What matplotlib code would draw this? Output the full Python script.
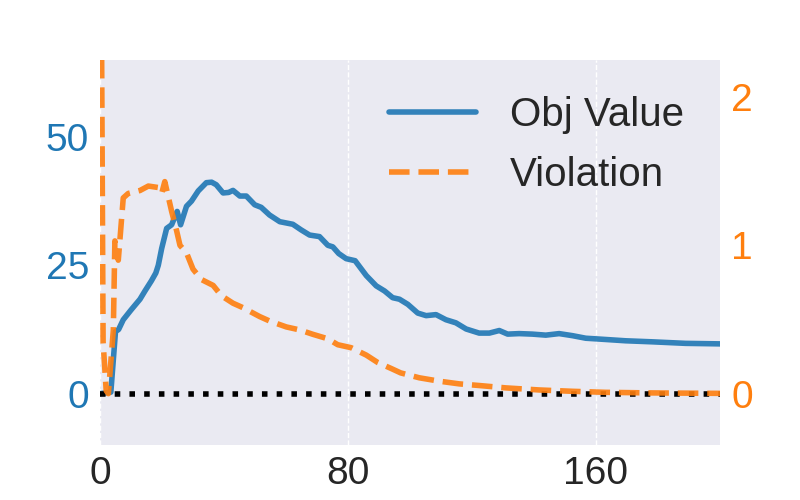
import matplotlib
matplotlib.use("Agg")
import matplotlib.pyplot as plt
import seaborn as sns

sns.set_theme(style="darkgrid")
plt.rcParams['font.family'] = ['Liberation Sans', 'DejaVu Sans']

BLUE = '#1f77b4'
ORANGE = '#ff7f0e'

# Objective value (left axis)
obj_x = [0, 3.5, 5, 6, 7.5, 10, 12.9, 14.5, 16.6, 18, 18.8, 19.9, 21.5, 23.1, 24.9, 26,
         27.9, 29.5, 31.7, 34.3, 36, 37.5, 39.7, 41.5, 42.9, 45.1, 47.2, 49.9, 52, 54.7,
         58, 62.2, 64.9, 67.6, 70.8, 73.5, 75.1, 77, 79.4, 82.3, 85.9, 89.1, 91.8, 94.4,
         96.6, 99.3, 102.5, 105.2, 108.4, 111.6, 114.8, 118.1, 122.3, 125.6, 128.8,
         131.5, 135.2, 139.5, 143.8, 148.1, 152.4, 156.7, 162, 169.6, 178.1, 188.9, 200]
obj_y = [0, 0.3, 12.1, 12.5, 14.4, 16.3, 18.4, 20, 22, 23.5, 25, 28.3, 32.2, 32.9, 35.5, 32.9,
         36.5, 37.5, 39.5, 41.1, 41.2, 40.7, 39.1, 39.2, 39.6, 38.5, 38.5, 36.8, 36.3, 34.8,
         33.5, 33, 31.9, 30.9, 30.6, 28.9, 28.6, 27.3, 26.3, 25.9, 23, 21, 20, 18.7,
         18.4, 17.4, 15.7, 15.2, 15.4, 14.4, 13.8, 12.6, 11.8, 11.8, 12.3,
         11.6, 11.7, 11.6, 11.4, 11.7, 11.3, 10.8, 10.6, 10.3, 10.1, 9.8, 9.7]

# Violation (right axis)
vio_x = [0, 1, 2, 2.7, 4.3, 4.8, 5.9, 7.5, 9.1, 12.9, 15.6, 18.8, 19.9, 20.9, 23.1, 24.7,
         25.8, 27.9, 30, 32.7, 36.5, 39.2, 42.9, 46.1, 51.5, 54.7, 60.1, 64.4, 68.7, 73.5,
         76.7, 81, 85.9, 89.6, 93.9, 97, 103, 109.5, 115.9, 122.3, 130.9, 141.7, 152.4,
         163.1, 178.1, 200]
vio_y = [4.5, 0.35, 0.02, 0.0, 0.43, 1.03, 0.9, 1.32, 1.35, 1.37, 1.40, 1.39, 1.35, 1.43, 1.23, 1.10,
         1.0, 0.95, 0.84, 0.77, 0.73, 0.66, 0.61, 0.58, 0.52, 0.49, 0.45, 0.43, 0.40, 0.37,
         0.33, 0.31, 0.26, 0.21, 0.17, 0.14, 0.107, 0.084, 0.066, 0.055, 0.039, 0.025, 0.016,
         0.009, 0.005, 0.002]

x_ticks = [0, 80, 160]
left_ticks = [0, 25, 50]
right_ticks = [0, 1, 2]

FS = 28
fig = plt.figure(figsize=(8, 5), dpi=100)
ax = fig.add_subplot(111)
ax2 = ax.twinx()

l1, = ax.plot(obj_x, obj_y, color=BLUE, lw=4, alpha=0.9, label='Obj Value', zorder=3)
l2, = ax2.plot(vio_x, vio_y, color=ORANGE, lw=4, ls='--', alpha=0.9, label='Violation', zorder=3)
ax.axhline(0, color='black', ls=':', lw=4, zorder=4)

ax.set_xlim(0, 200)
ax.set_ylim(-10, 65)
ax2.set_ylim(-10 / 65 * 2.25, 2.25)

ax.set_xticks(x_ticks)
ax.set_yticks(left_ticks)
ax2.set_yticks(right_ticks)

ax.grid(False)
ax.xaxis.grid(True, color='white', ls='--', lw=1)
ax2.grid(False)

ax.tick_params(axis='x', labelsize=FS, colors='#262626', length=0, pad=8)
ax.tick_params(axis='y', labelsize=FS, labelcolor=BLUE, length=0, pad=8)
ax2.tick_params(axis='y', labelsize=FS, labelcolor=ORANGE, length=0, pad=8)

for a in (ax, ax2):
    for s in a.spines.values():
        s.set_visible(False)

ax2.legend([l1, l2], ['Obj Value', 'Violation'], loc='upper right', fontsize=29,
           frameon=False, handlelength=2.15, labelspacing=0.55, handletextpad=0.85)

fig.subplots_adjust(left=0.125, right=0.9, bottom=0.11, top=0.88)
fig.savefig('out.png', dpi=100)
